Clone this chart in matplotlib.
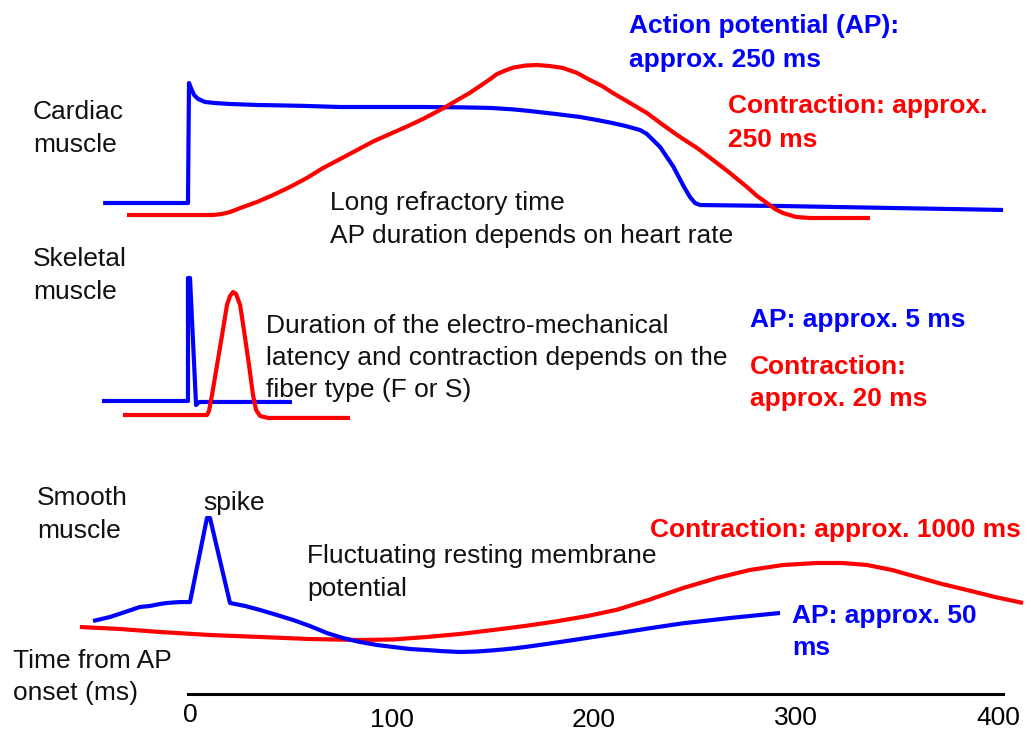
"""
Muscle types: action potential vs. contraction time course (schematic)
"""
import matplotlib
matplotlib.use("Agg")
import matplotlib.pyplot as plt

plt.rcParams["font.family"] = ["Liberation Sans", "DejaVu Sans"]

W, H = 1031, 731
X0 = 190            # pixel column of t = 0 ms
PX_PER_MS = 2.02    # horizontal scale
BLUE = "#0000ff"
RED = "#ff0000"
FS = 19

# ── data: time (ms) and normalized amplitude (0 = rest, 1 = peak) ──

cardiac_ap_t = [-43, -1, -0.5, 0.5, 2, 4, 7.4, 12.4, 20, 33, 55, 74, 95, 115, 135, 149, 160,
                168, 182, 193, 202, 209, 216, 222.8, 226.2, 232.7, 239.1, 244.6, 247.5, 250,
                252.5, 292, 402.5]
cardiac_ap_v = [0, 0, 1.0, 0.958, 0.9, 0.867, 0.842, 0.833, 0.825, 0.817, 0.81, 0.8, 0.8, 0.8,
                0.797, 0.792, 0.78, 0.767, 0.74, 0.717, 0.69, 0.667, 0.64, 0.608, 0.575, 0.467,
                0.308, 0.133, 0.05, 0, -0.017, -0.025, -0.058]

cardiac_con_t = [-31.2, 11.4, 15.8, 19.8, 26.2, 33.2, 41.1, 49.5, 57.9, 65.8, 74.3, 82.7, 90.6,
                 99, 107.4, 115.3, 125.2, 132.2, 138.6, 143.6, 148.5, 152, 156.4, 159.9, 165.8,
                 171.8, 178.2, 184.7, 191.6, 198, 204, 209.4, 217.8, 226.2, 234.2, 242.6, 251,
                 258.9, 267.3, 275.7, 280.7, 285.6, 289.6, 293.6, 300, 306.9, 336.6]
cardiac_con_v = [0, 0, 0.007, 0.02, 0.053, 0.087, 0.133, 0.187, 0.247, 0.313, 0.373, 0.433, 0.49,
                 0.54, 0.59, 0.64, 0.71, 0.765, 0.815, 0.86, 0.905, 0.94, 0.965, 0.982, 0.996,
                 1.0, 0.993, 0.98, 0.947, 0.9, 0.86, 0.813, 0.747, 0.68, 0.6, 0.52, 0.447,
                 0.367, 0.28, 0.187, 0.127, 0.08, 0.04, 0.013, -0.013, -0.02, -0.02]

skeletal_ap_t = [-43.6, -1, -1, 0, 3, 4.5, 50.5]
skeletal_ap_v = [0, 0, 1, 1, -0.033, -0.008, -0.008]

skeletal_con_t = [-33.2, 8.4, 9.4, 10.9, 13.4, 16.3, 18.3, 19.8, 21.3, 22.8, 24.8, 26.7, 29.2,
                  31.2, 32.7, 34.7, 38.6, 79.2]
skeletal_con_v = [0, 0, 0.033, 0.163, 0.407, 0.691, 0.894, 0.967, 1.0, 0.984, 0.894, 0.691, 0.407,
                  0.163, 0.041, -0.008, -0.024, -0.024]

smooth_ap_t = [-48, -39.6, -32.2, -24.8, -19.8, -14.9, -11.4, -5, 0, 8.4, 9.9, 19.8, 27.2, 34.7,
               43.1, 51, 59.4, 67.8, 75.7, 84.2, 92.6, 100.5, 108.9, 117.3, 125.2, 133.7, 142.1,
               150, 158.4, 166.8, 174.8, 183.2, 198, 211.4, 227.7, 244.1, 267.3, 292.1]
smooth_ap_v = [0, 0.039, 0.087, 0.136, 0.146, 0.165, 0.175, 0.184, 0.184, 1.0, 1.0, 0.175, 0.146,
               0.107, 0.058, 0.01, -0.049, -0.117, -0.165, -0.204, -0.233, -0.252, -0.272, -0.282,
               -0.293, -0.301, -0.296, -0.285, -0.27, -0.25, -0.228, -0.204, -0.16, -0.12,
               -0.07, -0.022, 0.029, 0.078]

smooth_con_t = [-54.5, -34.7, -14.9, 9.9, 34.7, 59.4, 84.2, 100.5, 117.3, 133.7, 150, 165.8,
                180.7, 196.5, 211.4, 227.7, 244.1, 260.9, 277.2, 293.6, 310.4, 322.8, 335.1,
                347.5, 359.9, 372.3, 384.7, 398.5, 412.4]
smooth_con_v = [0, -0.031, -0.078, -0.125, -0.156, -0.188, -0.203, -0.195, -0.156, -0.109, -0.047,
                0.016, 0.085, 0.17, 0.27, 0.43, 0.609, 0.766, 0.891, 0.969, 1.0, 1.0, 0.969,
                0.891, 0.781, 0.672, 0.578, 0.469, 0.375]

tick_values = [0, 100, 200, 300, 400]
tick_drop = [0, 5, 5, 3, 3]   # labels sit slightly staggered in the original

# trace layout: (t, v, colour, baseline px, height px)
traces = [
    (cardiac_ap_t, cardiac_ap_v, BLUE, 203, 120),
    (cardiac_con_t, cardiac_con_v, RED, 215, 150),
    (skeletal_ap_t, skeletal_ap_v, BLUE, 401, 123),
    (skeletal_con_t, skeletal_con_v, RED, 415, 123),
    (smooth_con_t, smooth_con_v, RED, 627, 64),
    (smooth_ap_t, smooth_ap_v, BLUE, 621, 103),
]

fig = plt.figure(figsize=(W / 100, H / 100), dpi=100)
ax = fig.add_axes([0, 0, 1, 1])
ax.set_xlim(-X0 / PX_PER_MS, (W - X0) / PX_PER_MS)
ax.set_ylim(H, 0)
ax.axis("off")

for t, v, color, base, height in traces:
    ax.plot(t, [base - a * height for a in v], color=color, linewidth=3,
            solid_joinstyle="round", solid_capstyle="butt")

# time axis
ax.plot([-1, 402.5], [694, 694], color="black", linewidth=2.2)
for val, drop in zip(tick_values, tick_drop):
    ax.text(val, 722 + drop, str(val), ha="center", va="baseline", fontsize=FS)


def label(x, y, lines, color="#111111", bold=False, step=33):
    for i, s in enumerate(lines):
        fig.text(x / W, 1 - (y + i * step) / H, s, ha="left", va="baseline",
                 fontsize=FS, color=color, fontweight="bold" if bold else "normal")


label(33, 119, ["Cardiac", "muscle"])
label(629, 33, ["Action potential (AP):", "approx. 250 ms"], BLUE, True, 34)
label(728, 113, ["Contraction: approx.", "250 ms"], RED, True, 34)
label(330, 210, ["Long refractory time", "AP duration depends on heart rate"])

label(33, 266, ["Skeletal", "muscle"])
label(266, 333, ["Duration of the electro-mechanical",
                 "latency and contraction depends on the",
                 "fiber type (F or S)"], step=32)
label(750, 327, ["AP: approx. 5 ms"], BLUE, True)
label(750, 374, ["Contraction:", "approx. 20 ms"], RED, True, 32)

label(37, 505, ["Smooth", "muscle"])
label(203, 510, ["spike"])
label(307, 563, ["Fluctuating resting membrane", "potential"])
label(650, 537, ["Contraction: approx. 1000 ms"], RED, True)
label(792, 623, ["AP: approx. 50", "ms"], BLUE, True, 32)

label(13, 668, ["Time from AP", "onset (ms)"], step=32)

fig.savefig("out.png", dpi=100, facecolor="white")
